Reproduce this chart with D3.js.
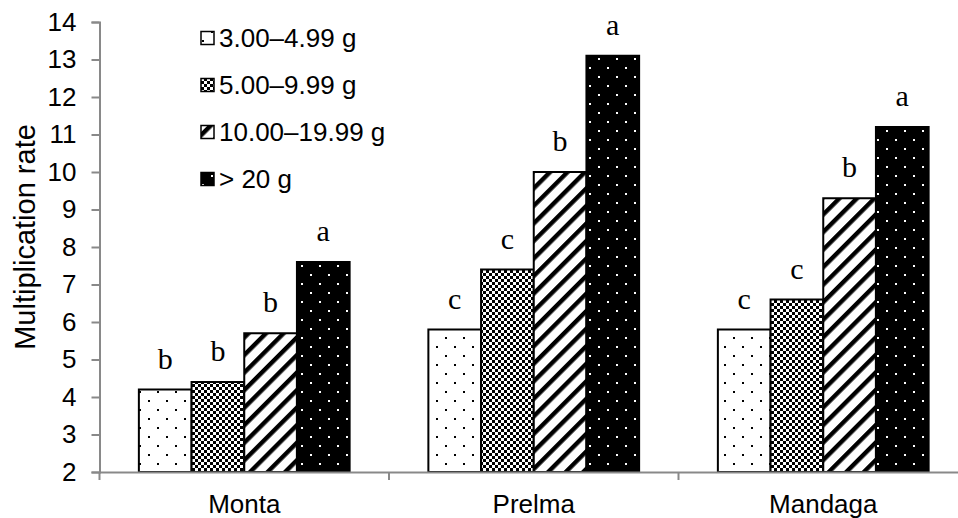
<!DOCTYPE html>
<html><head><meta charset="utf-8">
<script src="https://cdn.jsdelivr.net/npm/d3@7"></script>
<style>html,body{margin:0;padding:0;background:#fff;}svg{display:block;}</style>
</head><body>
<svg id="chart" width="958" height="518"></svg>
<script>
const categories = ["Monta", "Prelma", "Mandaga"];
const seriesNames = ["3.00–4.99 g", "5.00–9.99 g", "10.00–19.99 g", "> 20 g"];
const values = [
  [4.2, 4.4, 5.7, 7.6],   // Monta
  [5.8, 7.4, 10.0, 13.1], // Prelma
  [5.8, 6.6, 9.3, 11.2]   // Mandaga
];
const letters = [
  ["b", "b", "b", "a"],
  ["c", "c", "b", "a"],
  ["c", "c", "b", "a"]
];
const yTicks = [2, 3, 4, 5, 6, 7, 8, 9, 10, 11, 12, 13, 14];
const yTitle = "Multiplication rate";

(function () {
const svg = d3.select("#chart");
const defs = svg.append("defs");

// patterns
const p1 = defs.append("pattern").attr("id", "pat0").attr("patternUnits", "userSpaceOnUse")
  .attr("width", 18).attr("height", 18);
p1.append("rect").attr("width", 18).attr("height", 18).attr("fill", "#fff");
p1.append("rect").attr("x", 4).attr("y", 4).attr("width", 2).attr("height", 2).attr("fill", "#000");
p1.append("rect").attr("x", 13).attr("y", 13).attr("width", 2).attr("height", 2).attr("fill", "#000");

const p2 = defs.append("pattern").attr("id", "pat1").attr("patternUnits", "userSpaceOnUse")
  .attr("width", 6).attr("height", 6);
p2.append("rect").attr("width", 6).attr("height", 6).attr("fill", "#fff");
p2.append("rect").attr("x", 0).attr("y", 0).attr("width", 3).attr("height", 3).attr("fill", "#000");
p2.append("rect").attr("x", 3).attr("y", 3).attr("width", 3).attr("height", 3).attr("fill", "#000");

const p3 = defs.append("pattern").attr("id", "pat2").attr("patternUnits", "userSpaceOnUse")
  .attr("width", 12.4).attr("height", 12.4).attr("patternTransform", "rotate(45)");
p3.append("rect").attr("width", 12.4).attr("height", 12.4).attr("fill", "#fff");
p3.append("rect").attr("x", 0).attr("y", 0).attr("width", 4.4).attr("height", 12.4).attr("fill", "#000");

const p4 = defs.append("pattern").attr("id", "pat3").attr("patternUnits", "userSpaceOnUse")
  .attr("width", 18).attr("height", 18);
p4.append("rect").attr("width", 18).attr("height", 18).attr("fill", "#000");
p4.append("rect").attr("x", 4).attr("y", 4).attr("width", 2).attr("height", 2).attr("fill", "#fff");
p4.append("rect").attr("x", 13).attr("y", 13).attr("width", 2).attr("height", 2).attr("fill", "#fff");

const mLeft = 99.5, mRight = 968, mTop = 22, mBottom = 472;
const x = d3.scaleBand().domain(categories).range([mLeft, mRight]).paddingInner(0).paddingOuter(0);
const groupW = x.bandwidth() * 0.728;
const xs = d3.scaleBand().domain(d3.range(4)).range([0, groupW]).padding(0);
const y = d3.scaleLinear().domain([2, 14]).range([mBottom, mTop]);

const axisColor = "#898989";

// bars
categories.forEach((c, ci) => {
  const gx = x(c) + (x.bandwidth() - groupW) / 2;
  const g = svg.append("g");
  values[ci].forEach((v, si) => {
    g.append("rect")
      .attr("x", gx + xs(si))
      .attr("y", y(v))
      .attr("width", xs.bandwidth())
      .attr("height", y(2) - y(v))
      .attr("fill", `url(#pat${si})`)
      .attr("stroke", "#000").attr("stroke-width", 2);
    g.append("text")
      .attr("x", gx + xs(si) + xs.bandwidth() / 2)
      .attr("y", y(v) - 21)
      .attr("text-anchor", "middle")
      .attr("font-family", "'Liberation Serif', 'Times New Roman', serif")
      .attr("font-size", 30)
      .attr("fill", "#000")
      .text(letters[ci][si]);
  });
});

// y axis
const yAxis = d3.axisLeft(y).tickValues(yTicks).tickSize(8).tickPadding(15).tickFormat(d3.format("d"));
const ya = svg.append("g").attr("transform", `translate(${mLeft},0)`).call(yAxis);
ya.select(".domain").attr("stroke", axisColor).attr("stroke-width", 2);
ya.selectAll(".tick line").attr("stroke", axisColor).attr("stroke-width", 2);
ya.selectAll(".tick text").attr("font-family", "'Liberation Sans', Arial, sans-serif")
  .attr("font-size", 26).attr("fill", "#000");

// x axis
const xa = svg.append("g").attr("transform", `translate(0,${mBottom})`)
  .call(d3.axisBottom(x).tickSize(0).tickPadding(0));
xa.select(".domain").attr("stroke", axisColor).attr("stroke-width", 2);
xa.selectAll(".tick text").attr("font-family", "'Liberation Sans', Arial, sans-serif")
  .attr("font-size", 26).attr("fill", "#000").attr("dy", null).attr("y", 41);
// category boundary ticks
const bounds = categories.map(c => x(c)).concat([mRight]);
xa.selectAll(".bound").data(bounds).enter().append("line")
  .attr("x1", d => d).attr("x2", d => d).attr("y1", 0).attr("y2", 8)
  .attr("stroke", axisColor).attr("stroke-width", 2);

// y title
svg.append("text")
  .attr("transform", `translate(35,237) rotate(-90)`)
  .attr("text-anchor", "middle")
  .attr("font-family", "'Liberation Sans', Arial, sans-serif")
  .attr("font-size", 29).attr("fill", "#000")
  .text(yTitle);

// legend
const lg = svg.append("g");
seriesNames.forEach((n, i) => {
  const cy = 38 + i * 47;
  lg.append("rect").attr("x", 201).attr("y", cy - 6.5).attr("width", 13).attr("height", 13)
    .attr("fill", `url(#pat${i})`).attr("stroke", "#000").attr("stroke-width", 1.5);
  lg.append("text").attr("x", 219).attr("y", cy + 9)
    .attr("font-family", "'Liberation Sans', Arial, sans-serif")
    .attr("font-size", 26).attr("fill", "#000").text(n);
});
})();
</script>
</body></html>
